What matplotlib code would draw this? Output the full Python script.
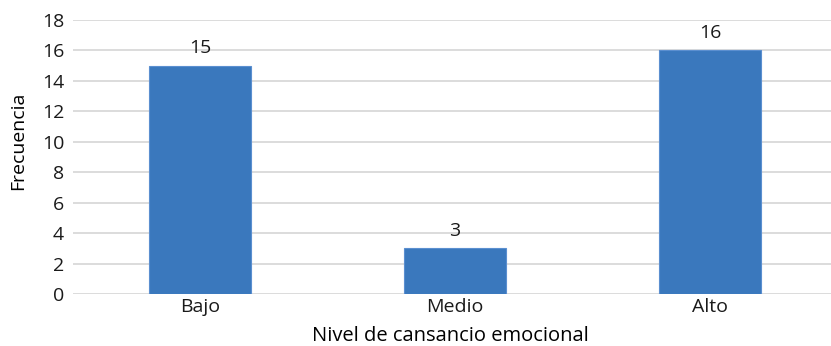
import matplotlib
matplotlib.use("Agg")
import matplotlib.pyplot as plt

categories = ["Bajo", "Medio", "Alto"]
frecuencia = [15, 3, 16]
y_ticks = [0, 2, 4, 6, 8, 10, 12, 14, 16, 18]

plt.rcParams["font.family"] = ["Open Sans", "DejaVu Sans"]

W, H = 831, 346
fig = plt.figure(figsize=(W / 100, H / 100), dpi=100)
left, right, bottom, top = 72.5, 831, 294, 20
ax = fig.add_axes([left / W, (H - bottom) / H, (right - left) / W, (bottom - top) / H])

x = range(len(categories))
bars = ax.bar(x, frecuencia, width=0.4, color="#3a78bd", edgecolor="#5b8fd0",
              linewidth=0.8, zorder=3)
for xi, v in zip(x, frecuencia):
    ax.annotate(str(v), (xi, v), xytext=(0, 6.3), textcoords="offset points",
                ha="center", va="bottom", fontsize=14, color="#1a1a1a")

ax.set_ylim(0, 18)
ax.set_xlim(-0.5, (right - left) / 255 - 0.5)
ax.set_yticks(y_ticks)
ax.set_xticks(list(x))
ax.set_xticklabels(categories)
ax.tick_params(axis="both", length=0, labelsize=14, colors="#1a1a1a")
ax.tick_params(axis="y", pad=6)
ax.tick_params(axis="x", pad=3)
ax.grid(axis="y", color="#d9d9d9", linewidth=1.3, zorder=0)
for s in ax.spines.values():
    s.set_visible(False)

fig.text(450 / W, 1 - 336 / H, "Nivel de cansancio emocional", ha="center",
         va="center", fontsize=14.5, color="#000000", fontweight="medium")
fig.text(18 / W, 1 - 141 / H, "Frecuencia", ha="center", va="center",
         rotation=90, fontsize=14, color="#000000", fontweight="medium")

fig.savefig("out.png", dpi=100)
